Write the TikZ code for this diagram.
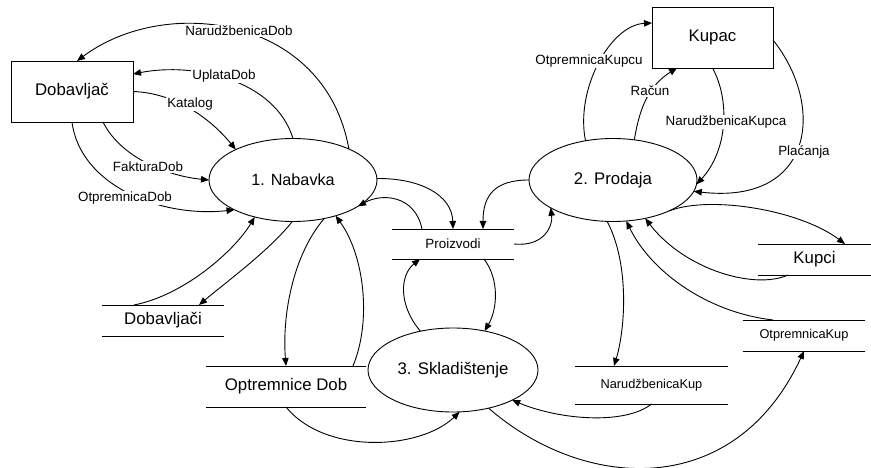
\documentclass[tikz,border=0pt]{standalone}
\usepackage{fontspec}
\setmainfont{Liberation Sans}
\usetikzlibrary{arrows.meta,shapes.geometric}
\begin{document}
\begin{tikzpicture}[x=1pt,y=-1pt,
  flow/.style={draw=black, line width=0.9pt, -{Triangle[length=8pt,width=6.5pt]}},
  bigtxt/.style={font=\fontsize{16.8}{20}\selectfont},
  proc/.style={ellipse, draw, line width=0.9pt, inner sep=0pt, outer sep=0pt, bigtxt},
  ext/.style={rectangle, draw, line width=0.9pt, inner sep=0pt, outer sep=0pt, bigtxt},
  store/.style={inner sep=0pt, outer sep=0pt},
  smalltxt/.style={font=\fontsize{12.8}{15}\selectfont},
  lbl/.style={fill=white, inner sep=1pt, font=\fontsize{13.4}{16}\selectfont}]
\useasboundingbox (0,0) rectangle (871,468);

% external entities
\node[ext, minimum width=122pt, minimum height=61pt] (dob) at (72,91.5) {Dobavljač};
\node[ext, minimum width=121pt, minimum height=61pt] (kup) at (712.5,37.5) {Kupac};

% processes
\node[proc, minimum width=168pt, minimum height=83pt, font=\fontsize{16.2}{20}\selectfont] (nab) at (293,180) {1. Nabavka};
\node[proc, minimum width=168pt, minimum height=83pt] (prod) at (613,180) {2. Prodaja};
\node[proc, minimum width=170pt, minimum height=84pt] (sklad) at (453,370) {3. Skladištenje};

% data stores
\node[store, minimum width=122pt, minimum height=30pt, font=\fontsize{13.4}{16}\selectfont] (prz) at (453,244) {Proizvodi};
\node[store, bigtxt, minimum width=122pt, minimum height=31pt] (dobs) at (163,320.5) {Dobavljači};
\node[store, bigtxt, minimum width=160pt, minimum height=41pt] (optd) at (286,386.5) {Optremnice Dob};
\node[store, bigtxt, minimum width=113pt, minimum height=31pt] (kupci) at (814.5,259.5) {Kupci};
\node[store, smalltxt, minimum width=122pt, minimum height=31pt] (otpk) at (804,335.5) {OtpremnicaKup};
\node[store, smalltxt, minimum width=153pt, minimum height=38pt] (narkup) at (651.5,385) {NarudžbenicaKup};
\foreach \s in {prz,dobs,optd,kupci,otpk,narkup}
  \draw[line width=0.9pt] (\s.north west) -- (\s.north east) (\s.south west) -- (\s.south east);

% Nabavka <-> Dobavljac
\draw[flow] (nab.29) .. controls (325,15) and (165,-5) .. ([xshift=5pt]dob.north);
\node[lbl] at (239,31) {NarudžbenicaDob};
\draw[flow] (nab.90) .. controls (275,80) and (195,62) .. ([yshift=17.5pt]dob.east);
\node[lbl] at (224,76) {UplataDob};
\draw[flow] (dob.east) .. controls (175,93) and (210,118) .. (nab.152);
\node[lbl] at (190,104) {Katalog};
\draw[flow] ([xshift=31pt]dob.south) .. controls (121,158) and (168,176) .. (nab.180);
\node[lbl] at (148,167) {FakturaDob};
\draw[flow] (dob.south) .. controls (80,185) and (160,218) .. (nab.207);
\node[lbl] at (125,198) {OtpremnicaDob};

% Nabavka <-> stores
\draw[flow] (nab.1) .. controls (420,178) and (452,195) .. (prz.north);
\draw[flow] ([xshift=-31pt]prz.north) .. controls (415,195) and (382,193) .. (nab.-22);
\draw[flow] ([xshift=67pt]optd.north) .. controls (372,320) and (364,255) .. (nab.-40);
\draw[flow] (nab.-51) .. controls (293,255) and (282,315) .. (optd.north);
\draw[flow] (nab.-91) .. controls (270,250) and (225,283) .. ([xshift=36pt]dobs.north);
\draw[flow] ([xshift=-29pt]dobs.north) .. controls (185,295) and (235,250) .. (nab.-136);

% Prodaja <-> Kupac
\draw[flow] (prod.125) .. controls (575,90) and (610,25) .. ([yshift=14.5pt]kup.west);
\node[lbl] at (589,61) {OtpremnicaKupcu};
\draw[flow] (prod.62) .. controls (640,105) and (650,85) .. ([xshift=-35.5pt]kup.south);
\node[lbl] at (650,91) {Račun};
\draw[flow] (kup.south) .. controls (730,100) and (728,150) .. (prod.-3);
\node[lbl] at (726,122) {NarudžbenicaKupca};
\draw[flow] ([yshift=-2.5pt]kup.east) .. controls (825,105) and (815,205) .. (prod.-8);
\node[lbl] at (804,152) {Plaćanja};

% Prodaja <-> stores
\draw[flow] (prod.180) .. controls (495,180) and (483,195) .. ([xshift=30pt]prz.north);
\draw[flow] (prz.east) .. controls (545,247) and (553,225) .. (prod.204);
\draw[flow] (prod.-29) .. controls (710,195) and (800,210) .. ([xshift=30.5pt]kupci.north);
\draw[flow] ([xshift=-26.5pt]kupci.south) .. controls (755,290) and (685,270) .. (prod.-50);
\draw[flow] ([xshift=-31pt]otpk.north) .. controls (705,312) and (650,270) .. (prod.-72);
\draw[flow] (prod.-98) .. controls (630,265) and (625,330) .. ([xshift=-37.5pt]narkup.north);

% Skladistenje
\draw[flow] (narkup.south) .. controls (625,425) and (560,420) .. (sklad.-27);
\draw[flow] (sklad.-47) .. controls (585,492) and (735,500) .. (otpk.south);
\draw[flow] (optd.south) .. controls (325,455) and (420,450) .. (sklad.-81);
\draw[flow] (sklad.130) .. controls (398,305) and (400,275) .. ([xshift=-33pt]prz.south);
\draw[flow] ([xshift=31pt]prz.south) .. controls (500,280) and (497,310) .. (sklad.51);
\end{tikzpicture}
\end{document}
